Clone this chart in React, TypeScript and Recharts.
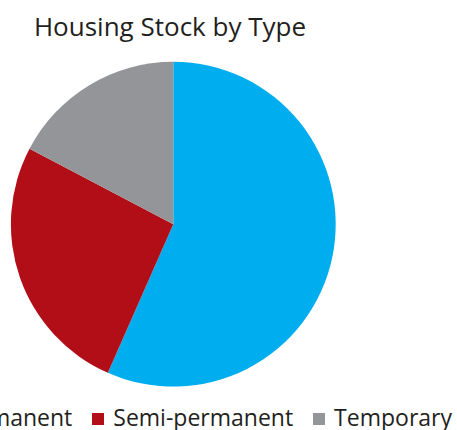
import React from "react";
import { PieChart, Pie, Cell, Legend } from "recharts";

const categories = ["Permanent", "Semi-permanent", "Temporary"];
const shares = [56.6, 26.1, 17.3];
const colors = ["#00aeef", "#b20e17", "#939598"];

const data = categories.map((name, i) => ({ name, value: shares[i] }));

const FONT = "'Open Sans', sans-serif";

const renderLegend = (props: any) => {
  const { payload } = props;
  return (
    <div
      style={{
        display: "flex",
        alignItems: "center",
        whiteSpace: "nowrap",
        fontFamily: FONT,
        fontSize: 23,
        color: "#231f20",
      }}
    >
      {(payload || []).map((entry: any, i: number) => (
        <div
          key={entry.value}
          style={{ display: "flex", alignItems: "center", marginLeft: i === 0 ? 0 : 20 }}
        >
          <span
            style={{
              width: 12,
              height: 12,
              background: entry.color,
              display: "inline-block",
              marginRight: 9,
              marginTop: 4,
            }}
          />
          <span>{entry.value}</span>
        </div>
      ))}
    </div>
  );
};

export default function App() {
  return (
    <div style={{ position: "absolute", left: 0, top: 0, width: 457, height: 430, background: "#fff" }}>
      <div
        style={{
          position: "absolute",
          left: 0,
          width: 340,
          top: 8,
          textAlign: "center",
          fontFamily: FONT,
          fontSize: 26,
          color: "#231f20",
        }}
      >
        Housing Stock by Type
      </div>
      <PieChart
        width={457}
        height={430}
        margin={{ top: 0, right: 0, bottom: 0, left: 0 }}
        style={{ position: "absolute", left: 0, top: 0 }}
      >
        <Pie
          data={data}
          dataKey="value"
          nameKey="name"
          cx={173.3}
          cy={224.2}
          outerRadius={162.4}
          startAngle={90}
          endAngle={-270}
          stroke="none"
          isAnimationActive={false}
        >
          {data.map((d, i) => (
            <Cell key={d.name} fill={colors[i]} />
          ))}
        </Pie>
        <Legend
          content={renderLegend}
          wrapperStyle={{ position: "absolute", left: "auto", right: 5, top: 401, bottom: "auto", width: "auto" }}
        />
      </PieChart>
    </div>
  );
}
